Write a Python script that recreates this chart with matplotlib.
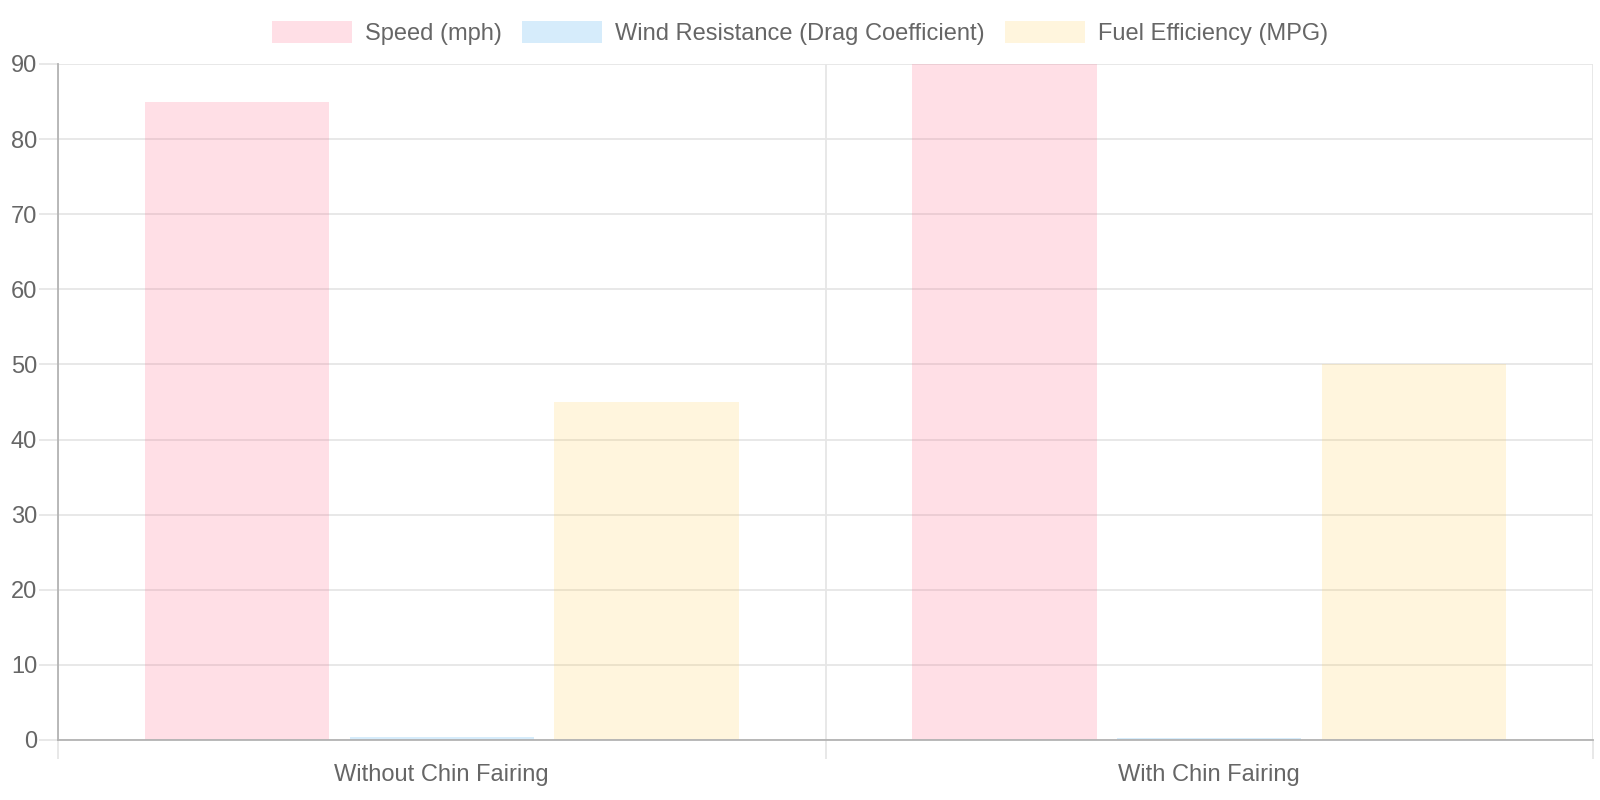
import matplotlib
matplotlib.use("Agg")
import matplotlib.pyplot as plt
import numpy as np

categories = ["Without Chin Fairing", "With Chin Fairing"]
series_names = ["Speed (mph)", "Wind Resistance (Drag Coefficient)", "Fuel Efficiency (MPG)"]
speed = [85, 90]
drag = [0.35, 0.32]
mpg = [45, 50]
y_ticks = [0, 10, 20, 30, 40, 50, 60, 70, 80, 90]

fills = [(255/255, 99/255, 132/255, 0.2), (54/255, 162/255, 235/255, 0.2), (255/255, 206/255, 86/255, 0.2)]

plt.rcParams['font.family'] = ['Liberation Sans', 'DejaVu Sans']
fs = 17
txt = '#666666'
grid_c = '#e6e6e6'
axis_c = '#b3b3b3'

fig = plt.figure(figsize=(16, 8), dpi=100)
ax = fig.add_axes([58/1600, 60/800, (1593-58)/1600, (740-64)/800])

x = np.arange(len(categories))
slot = 0.8 / 3
width = slot * 0.9
handles = []
for i, (vals, name) in enumerate(zip([speed, drag, mpg], series_names)):
    b = ax.bar(x + (i - 1) * slot, vals, width, color=fills[i], label=name, zorder=3, linewidth=0)
    handles.append(b)

ax.set_xlim(-0.5, len(categories) - 0.5)
ax.set_ylim(0, 90)
ax.set_yticks(y_ticks)
ax.set_yticklabels([str(t) for t in y_ticks])
ax.set_xticks(x)
ax.set_xticklabels(categories)
ax.set_xticks(np.arange(-0.5, len(categories), 1.0), minor=True)

ax.grid(True, axis='y', color=grid_c, linewidth=1.3, zorder=0)
ax.grid(True, axis='x', which='minor', color=grid_c, linewidth=1.3, zorder=0)
ax.grid(False, axis='x', which='major')

ax.tick_params(axis='y', length=14, width=1.3, color=grid_c, labelcolor=txt, labelsize=fs, pad=1)
ax.tick_params(axis='x', which='major', length=0, labelcolor=txt, labelsize=fs, pad=17)
ax.tick_params(axis='x', which='minor', length=14, width=1.3, color=grid_c)

for s in ['top', 'right']:
    ax.spines[s].set_visible(False)
ax.spines['left'].set_color(axis_c)
ax.spines['bottom'].set_color(axis_c)
ax.spines['left'].set_linewidth(1.3)
ax.spines['bottom'].set_linewidth(1.3)
ax.spines['left'].set_zorder(4)
ax.spines['bottom'].set_zorder(4)

leg = fig.legend(handles=handles, labels=series_names, loc='center', bbox_to_anchor=(0.5, 1 - 33/800),
                 ncol=3, frameon=False, fontsize=fs, handlelength=3.39, handleheight=1.02,
                 handletextpad=0.55, columnspacing=0.85, borderpad=0)
for t in leg.get_texts():
    t.set_color(txt)

fig.savefig("out.png", dpi=100)
